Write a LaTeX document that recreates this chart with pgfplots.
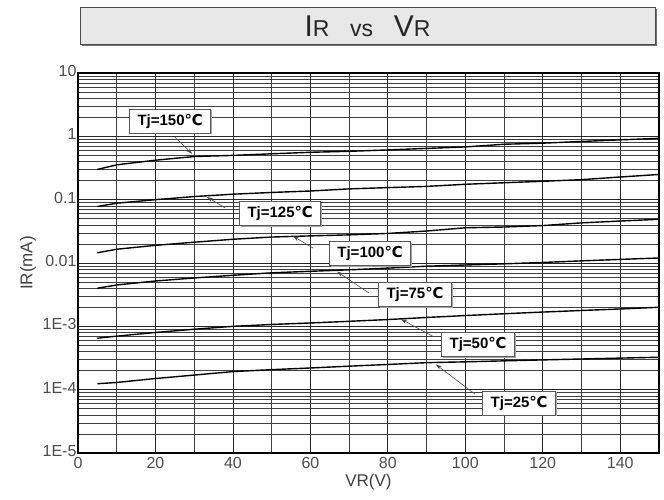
\documentclass[border=0pt]{standalone}
\usepackage{pgfplots}
\pgfplotsset{compat=1.18}
\usepackage{fontspec}
\setmainfont{Liberation Sans}
\newfontfamily\dejavu{DejaVu Sans}
\usetikzlibrary{arrows.meta}

\newcommand{\degc}{{\dejavu ℃}}

\tikzset{
  curve/.style={black, mark=none, line width=1.4pt},
  tjlabel/.style={draw=black!65, fill=white, line width=0.8pt,
    font=\fontsize{15}{15}\selectfont\bfseries, inner xsep=8pt,
    minimum height=24pt},
  tjarrow/.style={-{Stealth[length=6pt,width=4pt]}, black!70, line width=0.6pt}
}
% label box with a grey shadow
\newcommand{\tjbox}[3]{%
  \node[tjlabel, draw=none, fill=black!35, xshift=1.5pt, yshift=-1.5pt]
    at (axis cs:#1,#2) {Tj=#3\degc};
  \node[tjlabel] at (axis cs:#1,#2) {Tj=#3\degc};
}

\begin{document}
\begin{tikzpicture}
  \begin{axis}[
    scale only axis,
    width=581pt,
    height=380pt,
    xmin=0, xmax=150,
    ymin=1e-5, ymax=10,
    ymode=log,
    xtick={0,20,...,140},
    minor xtick={10,30,...,150},
    ytick={1e-5,1e-4,1e-3,0.01,0.1,1,10},
    yticklabels={1E-5,1E-4,1E-3,0.01,0.1,1,10},
    grid=both,
    major grid style={black!85, line width=0.8pt},
    minor grid style={black!75, line width=0.55pt},
    tick style={draw=none},
    axis line style={black, line width=1.3pt},
    ticklabel style={font=\fontsize{16}{16}\selectfont, text=black!70},
    xticklabel style={yshift=-1pt},
    yticklabel style={xshift=2pt, yshift=2pt},
    xlabel={VR(V)},
    ylabel={IR(mA)},
    label style={font=\fontsize{17}{17}\selectfont, text=black!75},
    xlabel style={yshift=2pt},
    /pgf/number format/assume math mode=true,
  ]
  \coordinate (SW) at (rel axis cs:0,0);
  \coordinate (NE) at (rel axis cs:1,1);

  % Tj=150
  \addplot[curve] coordinates {
    (5,0.30) (10,0.355) (20,0.42) (30,0.48) (40,0.50) (50,0.53) (60,0.56)
    (70,0.58) (80,0.61) (90,0.645) (100,0.68) (110,0.75) (120,0.78)
    (130,0.83) (140,0.88) (150,0.93)
  };
  % Tj=125
  \addplot[curve] coordinates {
    (5,0.078) (10,0.088) (20,0.100) (30,0.112) (40,0.122) (50,0.130)
    (60,0.137) (70,0.148) (80,0.155) (90,0.162) (100,0.175) (110,0.185)
    (120,0.195) (130,0.207) (140,0.228) (150,0.25)
  };
  % Tj=100
  \addplot[curve] coordinates {
    (5,0.0145) (10,0.0165) (20,0.019) (30,0.0213) (40,0.0237) (50,0.0257)
    (60,0.0268) (70,0.0278) (80,0.0293) (90,0.032) (100,0.036) (110,0.037)
    (120,0.039) (130,0.043) (140,0.046) (150,0.049)
  };
  % Tj=75
  \addplot[curve] coordinates {
    (5,0.0040) (10,0.0045) (20,0.0052) (30,0.0058) (40,0.0064) (50,0.0070)
    (60,0.0074) (70,0.0078) (80,0.0083) (90,0.0089) (100,0.0093)
    (110,0.0097) (120,0.0102) (130,0.0108) (140,0.0114) (150,0.0120)
  };
  % Tj=50
  \addplot[curve] coordinates {
    (5,6.5e-4) (10,7.0e-4) (20,8.0e-4) (30,9.0e-4) (40,1.0e-3) (50,1.07e-3)
    (60,1.13e-3) (70,1.2e-3) (80,1.28e-3) (90,1.38e-3) (100,1.48e-3)
    (110,1.58e-3) (120,1.68e-3) (130,1.78e-3) (140,1.88e-3) (150,2.0e-3)
  };
  % Tj=25
  \addplot[curve] coordinates {
    (5,1.24e-4) (10,1.3e-4) (20,1.5e-4) (30,1.7e-4) (40,1.93e-4) (50,2.07e-4)
    (60,2.2e-4) (70,2.35e-4) (80,2.5e-4) (90,2.67e-4) (100,2.75e-4)
    (110,2.85e-4) (120,2.95e-4) (130,3.05e-4) (140,3.15e-4) (150,3.25e-4)
  };

  % leader arrows
  \draw[tjarrow] (axis cs:25,0.97) -- (axis cs:29.5,0.53);
  \draw[tjarrow] (axis cs:38,0.074) -- (axis cs:33.3,0.110);
  \draw[tjarrow] (axis cs:60.7,0.0172) -- (axis cs:55.5,0.0265);
  \draw[tjarrow] (axis cs:75.1,0.00337) -- (axis cs:66.9,0.0073);
  \draw[tjarrow] (axis cs:91.9,6.8e-4) -- (axis cs:83.4,1.3e-3);
  \draw[tjarrow] (axis cs:102.5,8.5e-5) -- (axis cs:92.4,2.5e-4);

  \tjbox{23.8}{1.75}{150}
  \tjbox{52.2}{0.0615}{125}
  \tjbox{75.4}{0.01436}{100}
  \tjbox{87.0}{3.23e-3}{75}
  \tjbox{103.3}{5.25e-4}{50}
  \tjbox{113.9}{6.17e-5}{25}
  \end{axis}

  % title box
  \fill[black!55] ([shift={(3.5pt,406.5pt)}]SW) rectangle ([shift={(578.5pt,443.5pt)}]SW);
  \draw[black!70, fill=black!9, line width=1pt]
    ([shift={(2pt,408pt)}]SW) rectangle ([shift={(577pt,445pt)}]SW);
  \node[text=black!85] at ([shift={(289.5pt,426.5pt)}]SW)
    {\fontsize{30}{30}\selectfont I\fontsize{23}{23}\selectfont R\hspace{0.9em}vs\hspace{0.9em}\fontsize{30}{30}\selectfont V\fontsize{23}{23}\selectfont R};

  % page extent
  \path ([shift={(-78pt,-47pt)}]SW) rectangle ([shift={(5pt,73pt)}]NE);
\end{tikzpicture}
\end{document}
